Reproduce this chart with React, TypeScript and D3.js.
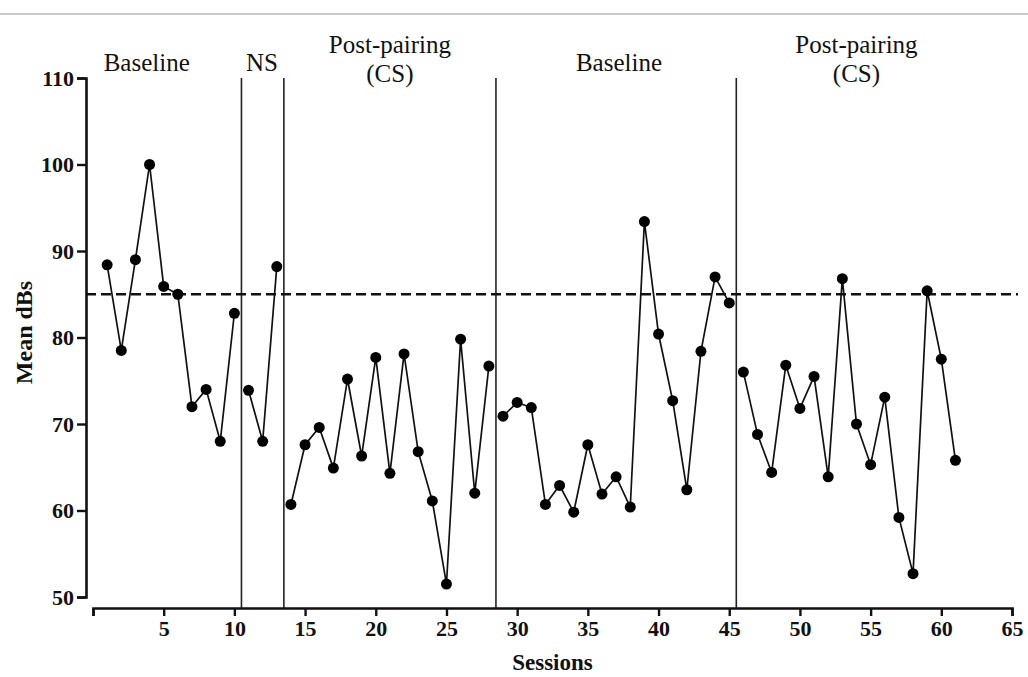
import React, { useEffect, useRef } from "react";
import * as d3 from "d3";

// mean dB per session
const sessions = d3.range(1, 62);
const meanDbs = [
  88.4, 78.5, 89.0, 100.0, 85.9, 85.0, 72.0, 74.0, 68.0, 82.8,
  73.9, 68.0, 88.2,
  60.7, 67.6, 69.6, 64.9, 75.2, 66.3, 77.7, 64.3, 78.1, 66.8, 61.1, 51.5, 79.8, 62.0, 76.7,
  70.9, 72.5, 71.9, 60.7, 62.9, 59.8, 67.6, 61.9, 63.9, 60.4, 93.4, 80.4, 72.7, 62.4, 78.4, 87.0, 84.0,
  76.0, 68.8, 64.4, 76.8, 71.8, 75.5, 63.9, 86.8, 70.0, 65.3, 73.1, 59.2, 52.7, 85.4, 77.5, 65.8,
];

// phase boundaries (first and last session of each phase)
const phaseStarts = [1, 11, 14, 29, 46];
const phaseEnds = [10, 13, 28, 45, 61];
const phaseLines = [10.5, 13.5, 28.5, 45.5];
const phaseLabels = [
  ["Baseline"],
  ["NS"],
  ["Post-pairing", "(CS)"],
  ["Baseline"],
  ["Post-pairing", "(CS)"],
];
const labelCenters = [3.8, 11.95, 21, 37.2, 54];

const criterion = 85;
const yTicks = [50, 60, 70, 80, 90, 100, 110];
const xTicks = d3.range(0, 66, 5);

const W = 1028;
const H = 677;

export default function App() {
  const xAxisRef = useRef<SVGGElement>(null);
  const yAxisRef = useRef<SVGGElement>(null);

  const x = d3.scaleLinear().domain([0, 65]).range([93, 1012]);
  const y = d3.scaleLinear().domain([50, 110]).range([597, 78]);
  const xAxisY = 608;
  const yAxisX = 86;

  useEffect(() => {
    const xa = d3.select(xAxisRef.current);
    xa.call(
      d3
        .axisBottom(x)
        .tickValues(xTicks)
        .tickSizeOuter(0)
        .tickSize(8)
        .tickPadding(4)
        .tickFormat((d) => (d === 0 ? "" : String(d)))
    );
    const ya = d3.select(yAxisRef.current);
    ya.call(
      d3.axisLeft(y).tickValues(yTicks).tickSizeOuter(0).tickSize(9).tickPadding(3)
    );
    [xa, ya].forEach((g) => {
      g.select(".domain").attr("stroke", "#111").attr("stroke-width", 2.6);
      g.selectAll(".tick line").attr("stroke", "#111").attr("stroke-width", 2.4);
      g.selectAll(".tick text")
        .attr("fill", "#111")
        .style("font-family", "'Liberation Serif', 'Times New Roman', serif")
        .style("font-weight", "bold")
        .style("font-size", "22px");
    });
  }, []);

  const line = d3
    .line<number>()
    .x((s) => x(s))
    .y((s) => y(meanDbs[s - 1]));

  const serif = "'Liberation Serif', 'Times New Roman', serif";

  return (
    <svg
      width={W}
      height={H}
      style={{ position: "absolute", left: 0, top: 0, background: "#fff" }}
    >
      <line x1={0} x2={W} y1={14} y2={14} stroke="#b5b5b5" strokeWidth={1.5} />

      {/* phase change lines */}
      {phaseLines.map((p) => (
        <line
          key={p}
          x1={x(p)}
          x2={x(p)}
          y1={y(110)}
          y2={xAxisY}
          stroke="#222"
          strokeWidth={1.6}
        />
      ))}

      {/* criterion line */}
      <line
        x1={yAxisX}
        x2={1018}
        y1={y(criterion)}
        y2={y(criterion)}
        stroke="#111"
        strokeWidth={2.6}
        strokeDasharray="10,5"
      />

      {/* data, broken at phase changes */}
      {phaseStarts.map((s, i) => (
        <path
          key={s}
          d={line(sessions.filter((d) => d >= s && d <= phaseEnds[i])) || ""}
          fill="none"
          stroke="#111"
          strokeWidth={1.7}
        />
      ))}
      {sessions.map((s) => (
        <circle key={s} cx={x(s)} cy={y(meanDbs[s - 1])} r={5.5} fill="#000" />
      ))}

      <g ref={xAxisRef} transform={`translate(0, ${xAxisY})`} />
      <g ref={yAxisRef} transform={`translate(${yAxisX}, 0)`} />

      {/* phase labels */}
      {phaseLabels.map((lines, i) =>
        lines.map((t, j) => (
          <text
            key={i + "-" + j}
            x={x(labelCenters[i])}
            y={lines.length === 1 ? 71 : 53 + j * 29}
            textAnchor="middle"
            fontFamily={serif}
            fontSize={25}
            fill="#111"
          >
            {t}
          </text>
        ))
      )}

      <text
        x={x(32.5)}
        y={670}
        textAnchor="middle"
        fontFamily={serif}
        fontWeight="bold"
        fontSize={23}
        fill="#111"
      >
        Sessions
      </text>
      <text
        transform={`translate(32, ${y(80) - 5}) rotate(-90)`}
        textAnchor="middle"
        fontFamily={serif}
        fontWeight="bold"
        fontSize={24}
        fill="#111"
      >
        Mean dBs
      </text>
    </svg>
  );
}
